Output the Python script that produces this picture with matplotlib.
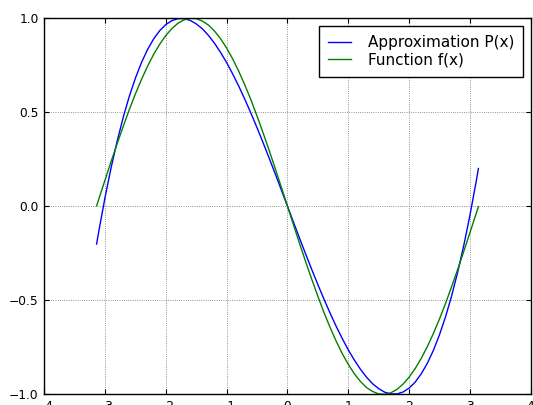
import numpy as np
import matplotlib
matplotlib.use('Agg')
import matplotlib.pyplot as plt

# --- datos ---
x_vals = [-3.14, -3.1, -3.0, -2.9, -2.8, -2.7, -2.6, -2.5, -2.4, -2.3, -2.2, -2.1,
          -2.0, -1.9, -1.8, -1.7, -1.6, -1.5, -1.4, -1.3, -1.2, -1.1, -1.0, -0.9,
          -0.8, -0.7, -0.6, -0.5, -0.4, -0.3, -0.2, -0.1, 0.0,
          0.1, 0.2, 0.3, 0.4, 0.5, 0.6, 0.7, 0.8, 0.9, 1.0, 1.1, 1.2, 1.3, 1.4,
          1.5, 1.6, 1.7, 1.8, 1.9, 2.0, 2.1, 2.2, 2.3, 2.4, 2.5, 2.6, 2.7, 2.8,
          2.9, 3.0, 3.1, 3.14]

approx_vals = [-0.201, -0.126, 0.049, 0.207, 0.349, 0.476, 0.587, 0.683, 0.766,
               0.835, 0.891, 0.935, 0.967, 0.988, 0.998, 0.998, 0.989, 0.970,
               0.944, 0.909, 0.867, 0.818, 0.764, 0.703, 0.638, 0.568, 0.494,
               0.417, 0.337, 0.255, 0.171, 0.086, 0.0,
               -0.086, -0.171, -0.255, -0.337, -0.417, -0.494, -0.568, -0.638,
               -0.703, -0.764, -0.818, -0.867, -0.909, -0.944, -0.970, -0.989,
               -0.998, -0.998, -0.988, -0.967, -0.935, -0.891, -0.835, -0.766,
               -0.683, -0.587, -0.476, -0.349, -0.207, -0.049, 0.126, 0.201]

func_vals = [0.002, 0.042, 0.141, 0.239, 0.335, 0.427, 0.516, 0.599, 0.676,
             0.746, 0.809, 0.863, 0.909, 0.946, 0.974, 0.992, 1.000, 0.998,
             0.985, 0.964, 0.932, 0.891, 0.841, 0.783, 0.717, 0.644, 0.565,
             0.479, 0.389, 0.296, 0.199, 0.100, 0.0,
             -0.100, -0.199, -0.296, -0.389, -0.479, -0.565, -0.644, -0.717,
             -0.783, -0.841, -0.891, -0.932, -0.964, -0.985, -0.998, -1.000,
             -0.992, -0.974, -0.946, -0.909, -0.863, -0.809, -0.746, -0.676,
             -0.599, -0.516, -0.427, -0.335, -0.239, -0.141, -0.042, -0.002]

x_ticks = [-4, -3, -2, -1, 0, 1, 2, 3, 4]
y_ticks = [-1.0, -0.5, 0.0, 0.5, 1.0]

W, H = 533, 405
fig = plt.figure(figsize=(W / 100, H / 100), dpi=100)
ax = fig.add_axes([44.3 / W, (H - 394.3) / H, 486.4 / W, 376 / H])

ax.plot(x_vals, approx_vals, color='blue', linewidth=1.0, label='Approximation P(x)')
ax.plot(x_vals, func_vals, color='green', linewidth=1.0, label='Function f(x)')

ax.set_xlim(-4, 4)
ax.set_ylim(-1, 1)
ax.set_xticks(x_ticks)
ax.set_yticks(y_ticks)
ax.set_yticklabels([f"{v:.1f}".replace('-', '\u2212') for v in y_ticks])
ax.set_xticklabels([str(v).replace('-', '\u2212') for v in x_ticks])
ax.tick_params(direction='in', length=3.6, width=0.8, labelsize=8.8, pad=4,
               top=True, right=True, colors='black')
ax.grid(True, color='0.45', linestyle=':', linewidth=0.6)
for s in ax.spines.values():
    s.set_linewidth(1.0)

leg = ax.legend(loc='upper right', fontsize=11, fancybox=False, framealpha=1,
                edgecolor='black', handlelength=1.5, handletextpad=1.1,
                borderpad=0.6, labelspacing=0.15, borderaxespad=0.5)
leg.get_frame().set_linewidth(1.0)

fig.savefig('out.png', dpi=100, facecolor='white')
